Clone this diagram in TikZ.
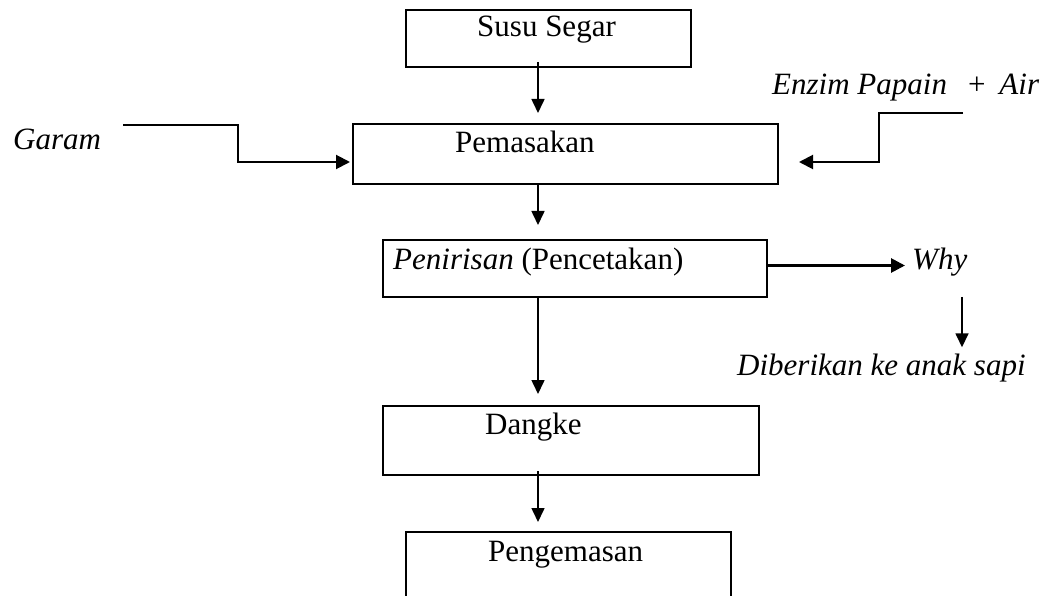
\documentclass[tikz,border=0pt]{standalone}
\usepackage{fontspec}
\setmainfont{Liberation Serif}
\usetikzlibrary{arrows.meta}
\tikzset{
  box/.style={draw=black, line width=2pt, rectangle, anchor=north west, inner sep=0pt},
  lbl/.style={anchor=base west, inner sep=0pt, font=\fontsize{31}{36}\selectfont},
  arr/.style={line width=1.6pt, -{Triangle[length=14pt,width=13pt]}},
  feed/.style={line width=2pt, -{Triangle[length=14pt,width=14pt]}},
  arrthick/.style={line width=2.8pt, -{Triangle[length=14pt,width=14pt]}}
}
\begin{document}
\begin{tikzpicture}[x=1pt,y=-1pt]
\useasboundingbox (0,0) rectangle (1049,596);
\clip (0,0) rectangle (1049,596);
% boxes
\node[box, minimum width=285pt, minimum height=57pt] (b1) at (405,9) {};
\node[box, minimum width=425pt, minimum height=60pt] (b2) at (352,123) {};
\node[box, minimum width=384pt, minimum height=57pt] (b3) at (382,239) {};
\node[box, minimum width=376pt, minimum height=69pt] (b4) at (382,405) {};
\node[box, minimum width=325pt, minimum height=100pt] (b5) at (405,531) {};
% texts
\node[lbl] (t1) at (477,37) {Susu Segar};
\node[lbl] (t2) at (455,153) {Pemasakan};
\node[lbl] (t3) at (393,269) {\textit{Penirisan} (Pencetakan)};
\node[lbl] (t4) at (485,434) {Dangke};
\node[lbl] (t5) at (488,561) {Pengemasan};
\node[lbl] (garam) at (13,150) {\textit{Garam}};
\node[lbl] (enzim) at (772,95) {\textit{Enzim Papain}\hspace{21pt}+\hspace{14pt}\textit{Air}};
\node[lbl] (why) at (912,269) {\textit{Why}};
\node[lbl] (dib) at (737,375) {\textit{Diberikan ke anak sapi}};
% helper coordinates
\coordinate (spine) at (538,0);
\coordinate (wx) at (962,0);
\coordinate (gin) at (123,125);
\coordinate (ein) at (963,113);
% main flow
\draw[arr] ([yshift=6pt]b1.south -| spine) -- ([yshift=10pt]b2.north -| spine);
\draw[arr] (b2.south -| spine) -- ([yshift=14pt]b3.north -| spine);
\draw[arr] (b3.south -| spine) -- ([yshift=11pt]b4.north -| spine);
\draw[arr] ([yshift=5pt]b4.south -| spine) -- ([yshift=9pt]b5.north -| spine);
% inputs
\draw[feed] (gin) -- ++(115,0) |- ([xshift=-2pt,yshift=-8pt]b2.west);
\draw[feed] (ein) -- ++(-84,0) |- ([xshift=20pt,yshift=-8pt]b2.east);
% outputs
\draw[arrthick] ([yshift=3pt]b3.east) -- ([xshift=-7pt,yshift=3pt]why.west |- b3.east);
\draw[arr] ([yshift=-21pt]why.south -| wx) -- ([yshift=6pt]dib.north -| wx);
\end{tikzpicture}
\end{document}
